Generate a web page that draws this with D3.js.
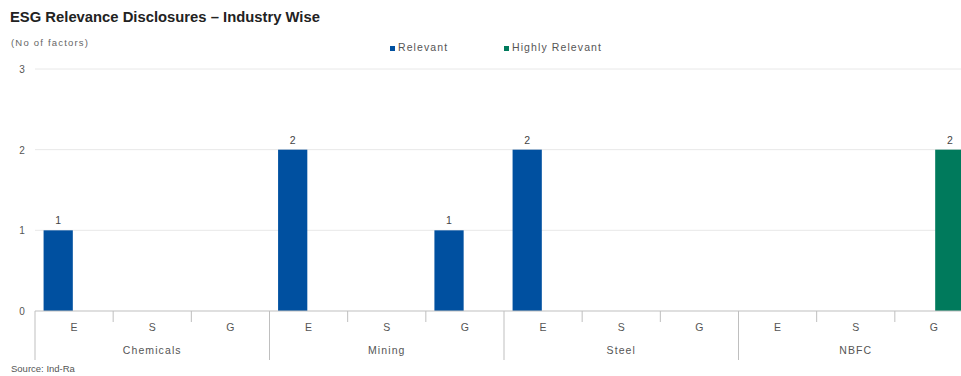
<!DOCTYPE html>
<html>
<head>
<meta charset="utf-8">
<script src="https://cdn.jsdelivr.net/npm/d3@7"></script>
<style>
  body { margin: 0; background: #fff; }
  svg { font-family: "Liberation Sans", Arial, sans-serif; }
</style>
</head>
<body>
<svg id="chart" width="961" height="376"></svg>
<script>
// chart data
let industries = ["Chemicals", "Mining", "Steel", "NBFC"];
let pillars = ["E", "S", "G"];
let seriesNames = ["Relevant", "Highly Relevant"];
let relevant = [1, 0, 0, 2, 0, 1, 2, 0, 0, 0, 0, 0];
let highlyRelevant = [0, 0, 0, 0, 0, 0, 0, 0, 0, 0, 0, 2];
let yTicks = [0, 1, 2, 3];

let svg = d3.select("#chart");
let colors = { "Relevant": "#0050a0", "Highly Relevant": "#007a5c" };

let margin = { top: 69, left: 35, bottom: 65 };
let plotWidth = 938;   // runs a bit off the right edge like the original
let plotHeight = 376 - margin.top - margin.bottom;

// build the flat list of E/S/G cells per industry
let cells = [];
industries.forEach((ind, i) => {
  pillars.forEach((p, j) => {
    let k = i * pillars.length + j;
    cells.push({ key: ind + "-" + p, industry: ind, pillar: p,
                 values: { "Relevant": relevant[k], "Highly Relevant": highlyRelevant[k] } });
  });
});

let x = d3.scaleBand()
  .domain(cells.map(d => d.key))
  .range([0, plotWidth]);

let xInner = d3.scaleBand()
  .domain(seriesNames)
  .range([0, x.bandwidth()])
  .paddingOuter(0.27)
  .paddingInner(0.08);

let y = d3.scaleLinear()
  .domain([0, 3])
  .range([plotHeight, 0]);

let plot = svg.append("g")
  .attr("transform", "translate(" + margin.left + "," + margin.top + ")");

// gridlines
plot.append("g")
  .selectAll("line")
  .data(yTicks.filter(t => t > 0))
  .join("line")
    .attr("x1", 0)
    .attr("x2", plotWidth)
    .attr("y1", d => y(d))
    .attr("y2", d => y(d))
    .attr("stroke", "#e8e8e8")
    .attr("stroke-width", 1);

// y tick labels
plot.append("g")
  .selectAll("text")
  .data(yTicks)
  .join("text")
    .attr("x", -13)
    .attr("y", d => y(d) + 4)
    .attr("text-anchor", "middle")
    .attr("font-size", 10)
    .attr("fill", "#555")
    .text(d => d);

// bars
let groups = plot.append("g")
  .selectAll("g")
  .data(cells)
  .join("g")
    .attr("transform", d => "translate(" + x(d.key) + ",0)");

let barData = d => seriesNames.map(s => ({ series: s, value: d.values[s] }));

groups.selectAll("rect")
  .data(barData)
  .join("rect")
    .attr("x", d => xInner(d.series))
    .attr("y", d => y(d.value))
    .attr("width", xInner.bandwidth())
    .attr("height", d => y(0) - y(d.value))
    .attr("fill", d => colors[d.series]);

groups.selectAll("text.val")
  .data(d => barData(d).filter(v => v.value > 0))
  .join("text")
    .attr("class", "val")
    .attr("x", d => xInner(d.series) + xInner.bandwidth() / 2)
    .attr("y", d => y(d.value) - 6)
    .attr("text-anchor", "middle")
    .attr("font-size", 10.5)
    .attr("fill", "#444")
    .text(d => d.value);

// x axis line
plot.append("line")
  .attr("x1", 0).attr("x2", plotWidth)
  .attr("y1", y(0)).attr("y2", y(0))
  .attr("stroke", "#bfbfbf");

// small ticks between cells, long ones between industries
plot.append("g")
  .selectAll("line")
  .data(d3.range(cells.length + 1))
  .join("line")
    .attr("x1", i => i < cells.length ? x(cells[i].key) : plotWidth)
    .attr("x2", i => i < cells.length ? x(cells[i].key) : plotWidth)
    .attr("y1", y(0))
    .attr("y2", i => i % 3 === 0 ? y(0) + 49 : y(0) + 11)
    .attr("stroke", "#bfbfbf");

plot.append("g")
  .selectAll("text")
  .data(cells)
  .join("text")
    .attr("x", d => x(d.key) + x.bandwidth() / 2)
    .attr("y", y(0) + 20)
    .attr("text-anchor", "middle")
    .attr("font-size", 10.5)
    .attr("fill", "#555")
    .text(d => d.pillar);

plot.append("g")
  .selectAll("text")
  .data(industries)
  .join("text")
    .attr("x", (d, i) => x(d + "-S") + x.bandwidth() / 2)
    .attr("y", y(0) + 43)
    .attr("text-anchor", "middle")
    .attr("font-size", 10.5)
    .attr("letter-spacing", 1.1)
    .attr("fill", "#555")
    .text(d => d);

// title, unit, source
svg.append("text")
  .attr("x", 10).attr("y", 22)
  .attr("font-size", 14.8)
  .attr("font-weight", "bold")
  .attr("fill", "#222")
  .text("ESG Relevance Disclosures \u2013 Industry Wise");

svg.append("text")
  .attr("x", 11).attr("y", 46)
  .attr("font-size", 9.5)
  .attr("letter-spacing", 1.2)
  .attr("fill", "#666")
  .text("(No of factors)");

svg.append("text")
  .attr("x", 11).attr("y", 372)
  .attr("font-size", 9.5)
  .attr("fill", "#555")
  .text("Source: Ind-Ra");

// legend
let legend = svg.append("g")
  .selectAll("g")
  .data(seriesNames)
  .join("g")
    .attr("transform", (d, i) => "translate(" + (390 + i * 114) + ",51)");

legend.append("rect")
  .attr("x", 0).attr("y", -5)
  .attr("width", 5).attr("height", 5)
  .attr("fill", d => colors[d]);

legend.append("text")
  .attr("x", 8).attr("y", 0)
  .attr("font-size", 10.5)
  .attr("letter-spacing", 1.1)
  .attr("fill", "#555")
  .text(d => d);
</script>
</body>
</html>
